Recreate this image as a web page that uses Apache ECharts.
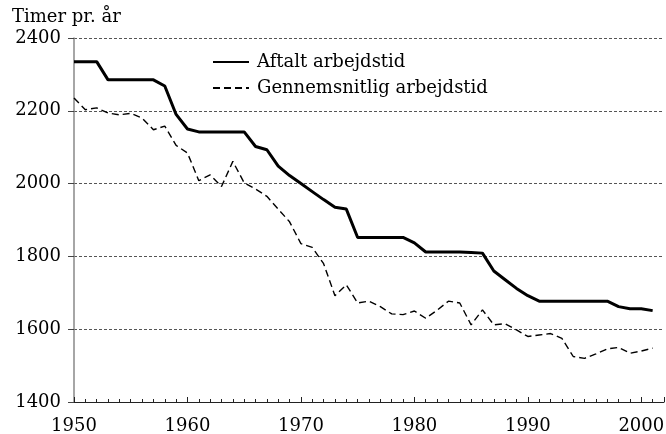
<!DOCTYPE html>
<html>
<head>
<meta charset="utf-8">
<script src="https://cdn.jsdelivr.net/npm/echarts@6/dist/echarts.min.js"></script>
<style>
    html, body { margin: 0; padding: 0; background: #fff; }
    #chart { width: 666px; height: 434px; }
</style>
</head>
<body>
<div id="chart"></div>
<script>
// aarstal 1950-2001
var years = [];
for (var y = 1950; y <= 2001; y++) {
    years.push(y);
}

// Aftalt arbejdstid (timer pr. aar)
var aftalt = [
    2335, 2335, 2335, 2285, 2285, 2285, 2285, 2285, 2268, 2190,
    2150, 2142, 2142, 2142, 2142, 2142, 2102, 2093, 2048, 2022,
    2000, 1978, 1956, 1935, 1930, 1852, 1852, 1852, 1852, 1852,
    1837, 1812, 1812, 1812, 1812, 1811, 1809, 1760, 1736, 1712,
    1692, 1677, 1677, 1677, 1677, 1677, 1677, 1677, 1662, 1656,
    1656, 1651
];

// Gennemsnitlig arbejdstid (timer pr. aar)
var gennemsnit = [
    2235, 2203, 2208, 2194, 2189, 2193, 2180, 2148, 2158, 2105,
    2084, 2008, 2024, 1992, 2061, 2002, 1985, 1965, 1930, 1895,
    1835, 1825, 1780, 1692, 1722, 1672, 1677, 1662, 1642, 1640,
    1650, 1630, 1652, 1677, 1672, 1612, 1653, 1612, 1615, 1598,
    1580, 1584, 1588, 1575, 1525, 1520, 1532, 1546, 1550, 1534,
    1540, 1548
];

var yTicks = {min: 1400, max: 2400, step: 200};
var xRange = {min: 1950, max: 2002, step: 10};

function pairs(vals) {
    var out = [];
    for (var i = 0; i < vals.length; i++) {
        out.push([years[i], vals[i]]);
    }
    return out;
}

function plain(v) {
    return String(v);
}

var font = 'DejaVu Serif';
var myChart = echarts.init(document.getElementById('chart'));

var option = {
    backgroundColor: '#fff',
    animation: false,
    title: {
        text: 'Timer pr. år',
        left: 7,
        top: 3,
        textStyle: {
            fontFamily: font,
            fontSize: 18,
            fontWeight: 'normal',
            color: '#000'
        }
    },
    legend: {
        orient: 'vertical',
        left: 207,
        top: 48,
        itemWidth: 36,
        itemHeight: 14,
        itemGap: 8,
        itemStyle: {opacity: 0},
        textStyle: {
            fontFamily: font,
            fontSize: 18,
            color: '#000',
            padding: [0, 0, 0, 3]
        },
        data: ['Aftalt arbejdstid', 'Gennemsnitlig arbejdstid']
    },
    grid: {
        left: 74,
        right: 2,
        top: 38,
        bottom: 32,
        outerBoundsMode: 'none'
    },
    xAxis: {
        type: 'value',
        min: xRange.min,
        max: xRange.max,
        interval: xRange.step,
        axisLine: {lineStyle: {color: '#222', width: 1}},
        axisTick: {show: true, inside: true, length: 5, lineStyle: {color: '#222'}},
        minorTick: {show: true, splitNumber: 10, length: 3, lineStyle: {color: '#222'}},
        splitLine: {show: false},
        axisLabel: {
            showMaxLabel: false,
            margin: 15,
            formatter: plain,
            fontFamily: font,
            fontSize: 18,
            color: '#000'
        }
    },
    yAxis: {
        type: 'value',
        min: yTicks.min,
        max: yTicks.max,
        interval: yTicks.step,
        axisLine: {show: true, lineStyle: {color: '#888', width: 1.5}},
        axisTick: {show: true, length: 6, lineStyle: {color: '#444'}},
        splitLine: {
            show: true,
            lineStyle: {color: '#555', width: 1, type: [3, 2]}
        },
        axisLabel: {
            margin: 13,
            formatter: plain,
            fontFamily: font,
            fontSize: 18,
            color: '#000'
        }
    },
    series: [
        {
            name: 'Aftalt arbejdstid',
            type: 'line',
            symbol: 'none',
            data: pairs(aftalt),
            itemStyle: {color: '#000'},
            lineStyle: {color: '#000', width: 3}
        },
        {
            name: 'Gennemsnitlig arbejdstid',
            type: 'line',
            symbol: 'none',
            data: pairs(gennemsnit),
            itemStyle: {color: '#000'},
            lineStyle: {color: '#000', width: 1.4, type: [7, 4]}
        }
    ]
};
myChart.setOption(option);
</script>
</body>
</html>
